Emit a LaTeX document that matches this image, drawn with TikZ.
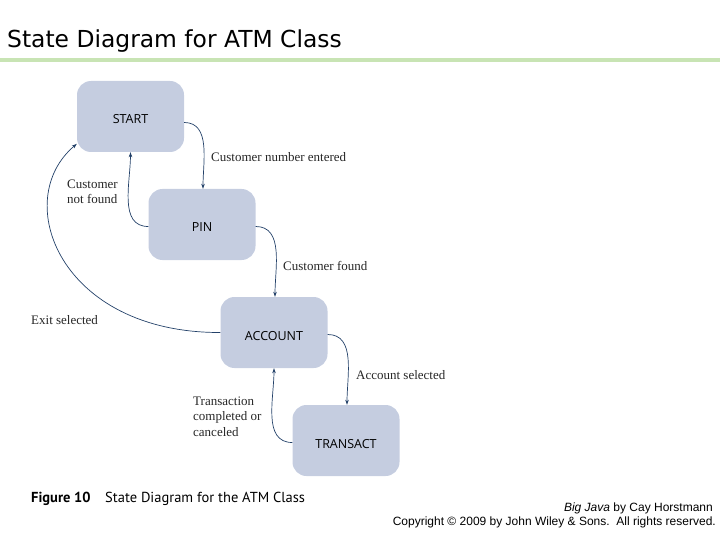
\documentclass[tikz,border=0pt]{standalone}
\usepackage{fontspec}
\setmainfont{Liberation Serif}
\newfontfamily\titlefont{DejaVu Sans}
\newfontfamily\nodefont{Open Sans}
\newfontfamily\capfont{PT Sans}
\newfontfamily\arialfont{Liberation Sans}
\usetikzlibrary{arrows.meta}
\definecolor{nodefill}{RGB}{197,205,224}
\definecolor{arr}{RGB}{35,65,105}
\definecolor{rulecol}{RGB}{200,228,180}
\newcommand{\lowlab}[1]{\raisebox{-3pt}[9pt][0pt]{#1}}
\begin{document}
\begin{tikzpicture}[x=1pt,y=-1pt,
  state/.style={fill=nodefill, rounded corners=14pt, minimum width=107pt, minimum height=71pt, inner sep=0pt, font=\nodefont\fontsize{12.5}{14}\selectfont},
  trans/.style={draw=arr, line width=0.7pt, -{Stealth[length=5pt,width=3.5pt]}},
  lab/.style={font=\fontsize{13}{15.5}\selectfont, inner sep=0pt, align=left, text=black!85}
]
\useasboundingbox (0,0) rectangle (720,540);
\node[anchor=base west, inner sep=0pt, font=\titlefont\fontsize{23.4}{26}\selectfont] (title) at (7,48) {State Diagram for ATM Class};
\fill[rulecol] (0,58) rectangle (720,62);

\node[state] (start) at (130.5,116.5) {\lowlab{START}};
\node[state] (pin) at (202,224.5) {\lowlab{PIN}};
\node[state] (account) at (274,332.5) {\lowlab{ACCOUNT}};
\node[state] (transact) at (346,440.5) {\lowlab{TRANSACT}};

\draw[trans] ([yshift=-6pt]start.east) to[out=0,in=90] ([xshift=1pt]pin.north);
\draw[trans] ([yshift=-2pt]pin.west) to[out=180,in=-90] (start.south);
\draw[trans] ([yshift=-2pt]pin.east) to[out=0,in=90] ([xshift=1pt]account.north);
\draw[trans] ([yshift=-2pt]account.east) to[out=0,in=90] ([xshift=1pt]transact.north);
\draw[trans] ([yshift=-2pt]transact.west) to[out=180,in=-90] (account.south);
\draw[trans] (account.west) .. controls (60,333) and (10,200) .. (start.207);

\node[lab, anchor=base west] (l1) at (211,162) {Customer number entered};
\node[lab, anchor=north west] (l2) at (67,179.5) {Customer\\not found};
\node[lab, anchor=base west] (l3) at (283,270) {Customer found};
\node[lab, anchor=base west] (l4) at (31,324) {Exit selected};
\node[lab, anchor=base west] (l5) at (356,379) {Account selected};
\node[lab, anchor=north west] (l6) at (193,396.5) {Transaction\\completed or\\canceled};

\node[anchor=base west, inner sep=0pt, font=\capfont\bfseries\fontsize{14.5}{16}\selectfont] (fig) at (31,502) {Figure 10};
\node[anchor=base west, inner sep=0pt, font=\capfont\fontsize{14.5}{16}\selectfont] (figcap) at (105,502) {State Diagram for the ATM Class};

\node[anchor=base east, inner sep=0pt, font=\arialfont\fontsize{12}{14}\selectfont] (c1) at (713,511) {\textit{Big Java} by Cay Horstmann};
\node[anchor=base east, inner sep=0pt, font=\arialfont\fontsize{12}{14}\selectfont] (c2) at (716,525) {Copyright \textcopyright{} 2009 by John Wiley \& Sons.\ \ All rights reserved.};
\end{tikzpicture}
\end{document}
